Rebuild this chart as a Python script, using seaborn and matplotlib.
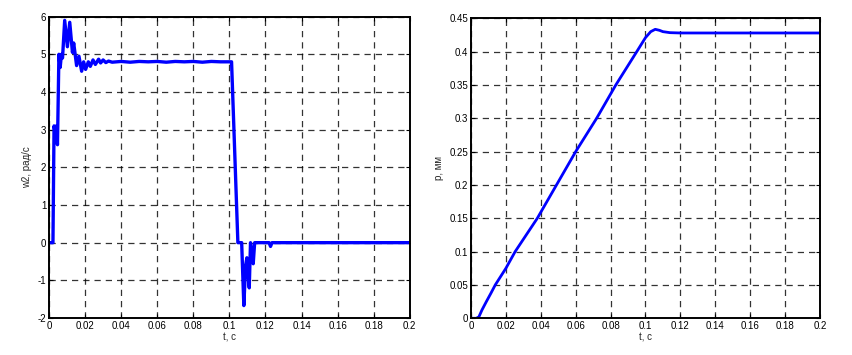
import matplotlib
matplotlib.use("Agg")
import matplotlib.pyplot as plt
import seaborn as sns

# ---- data: left plot w2 (rad/s) vs t (s)
t_w = [0.0, 0.0022, 0.0028, 0.0035, 0.0041, 0.0047, 0.0055, 0.0062, 0.0069, 0.0075,
       0.0087, 0.0102, 0.0115, 0.0130, 0.0137, 0.0153, 0.0166, 0.0181, 0.0192, 0.0203,
       0.0218, 0.0229, 0.0244, 0.0257, 0.0275, 0.0286, 0.0300, 0.0315, 0.0330, 0.0350,
       0.0400, 0.0450, 0.0500, 0.0550, 0.0600, 0.0650, 0.0700, 0.0750, 0.0800, 0.0850,
       0.0900, 0.0950, 0.1000, 0.1012, 0.1047, 0.1068, 0.1080, 0.1090, 0.1097, 0.1104,
       0.1110, 0.1117, 0.1125, 0.1132, 0.1140, 0.1220, 0.1228, 0.1236, 0.1400, 0.1600,
       0.1800, 0.2000]
w2 = [0.0, 0.0, 3.1, 2.9, 3.1, 2.6, 5.0, 4.65, 5.0, 4.9,
      5.9, 5.2, 5.85, 5.05, 5.3, 4.7, 4.95, 4.55, 4.8, 4.6,
      4.8, 4.68, 4.85, 4.73, 4.87, 4.77, 4.85, 4.78, 4.82, 4.79,
      4.81, 4.79, 4.81, 4.80, 4.81, 4.79, 4.81, 4.80, 4.81, 4.79,
      4.81, 4.80, 4.80, 4.80, 0.0, 0.0, -1.67, -0.6, -0.4, -0.9,
      -1.2, 0.0, -0.3, -0.56, 0.0, 0.0, -0.1, 0.0, 0.0, 0.0,
      0.0, 0.0]

# ---- data: right plot p (mm) vs t (s)
t_p = [0.0, 0.003, 0.0045, 0.0063, 0.0088, 0.0114, 0.0139, 0.020, 0.0253, 0.038,
       0.049, 0.060, 0.072, 0.083, 0.095, 0.100, 0.103, 0.1056, 0.108, 0.110,
       0.114, 0.120, 0.150, 0.200]
p = [0.0, 0.0, 0.002, 0.0125, 0.025, 0.0375, 0.05, 0.075, 0.10, 0.15,
     0.20, 0.25, 0.30, 0.35, 0.40, 0.421, 0.430, 0.4335, 0.432, 0.430,
     0.4285, 0.428, 0.428, 0.428]

w_yticks = [-2, -1, 0, 1, 2, 3, 4, 5, 6]
p_yticks = [0, 0.05, 0.1, 0.15, 0.2, 0.25, 0.3, 0.35, 0.4, 0.45]
x_ticks = [0, 0.02, 0.04, 0.06, 0.08, 0.1, 0.12, 0.14, 0.16, 0.18, 0.2]
x_labels = ["0", "0.02", "0.04", "0.06", "0.08", "0.1", "0.12", "0.14", "0.16", "0.18", "0.2"]
p_labels = ["0", "0.05", "0.1", "0.15", "0.2", "0.25", "0.3", "0.35", "0.4", "0.45"]
w_labels = ["-2", "-1", "0", "1", "2", "3", "4", "5", "6"]

sns.set_theme(style="white")
plt.rcParams['font.family'] = ['Liberation Sans', 'DejaVu Sans']

fig = plt.figure(figsize=(8.52, 3.55), dpi=100)
ax1 = fig.add_axes([0.0575, 0.1042, 0.4235, 0.849])
ax2 = fig.add_axes([0.5528, 0.1034, 0.4096, 0.8450])

sns.lineplot(x=t_w, y=w2, ax=ax1, color='#0000ff', linewidth=2.4, sort=False)
sns.lineplot(x=t_p, y=p, ax=ax2, color='#0000ff', linewidth=2.0, sort=False)

def style(ax, yticks, ylabels, ylim, ylabel):
    ax.set_xlim(0, 0.2)
    ax.set_ylim(*ylim)
    ax.set_xticks(x_ticks)
    ax.set_xticklabels(x_labels)
    ax.set_yticks(yticks)
    ax.set_yticklabels(ylabels)
    ax.grid(True, linestyle=(0, (5, 4)), color='black', linewidth=0.9, alpha=0.8)
    ax.tick_params(direction='in', length=3, width=0.8, labelsize=7, colors='black',
                   top=True, right=True, bottom=True, left=True, pad=2)
    for s in ax.spines.values():
        s.set_color('black')
        s.set_linewidth(1.4)
        s.set_visible(True)
    ax.set_xlabel("t, c", fontsize=7, labelpad=1)
    ax.set_ylabel(ylabel, fontsize=7, labelpad=4)

style(ax1, w_yticks, w_labels, (-2, 6), "w2, рад/с")
style(ax2, p_yticks, p_labels, (0, 0.45), "p, мм")

fig.savefig("out.png", dpi=100, facecolor='white')
